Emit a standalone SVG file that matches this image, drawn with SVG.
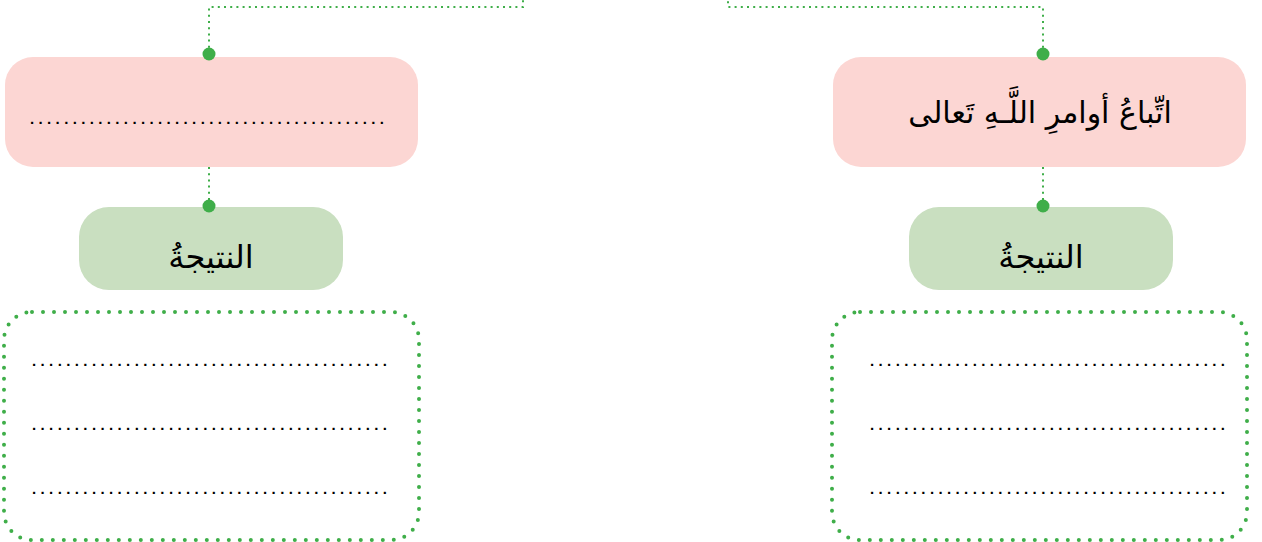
<svg xmlns="http://www.w3.org/2000/svg" width="1262" height="542" viewBox="0 0 1262 542">
<style>
.conn{fill:none;stroke:#3fae49;stroke-width:2;stroke-dasharray:2 4.2}
.dot{fill:#3fae49}
.pink{fill:#fcd6d3}
.green{fill:#c9dfc0}
.frame{fill:none;stroke:#3fae49;stroke-width:4;stroke-linecap:round;stroke-dasharray:0 11}
.lbl{font-family:"DejaVu Sans","Noto Sans",sans-serif;fill:#000;text-anchor:middle}
.fill{font-family:"Liberation Sans",sans-serif;font-size:15px;fill:#000;font-weight:bold}
</style>
<g id="pink-left">
<rect class="pink" x="5" y="57" width="413" height="110" rx="28"/>
<text class="fill" x="30" y="124" textLength="354" lengthAdjust="spacing">..........................................</text>
</g>
<g id="pink-right">
<rect class="pink" x="833" y="57" width="413" height="110" rx="28"/>
<text class="lbl" x="1040" y="123" font-size="30" direction="rtl">اتِّباعُ أوامرِ اللَّـهِ تَعالى</text>
</g>
<g id="green-left">
<rect class="green" x="79" y="207" width="264" height="83" rx="30"/>
<text class="lbl" x="211" y="268" font-size="32" direction="rtl">النتيجةُ</text>
</g>
<g id="green-right">
<rect class="green" x="909" y="207" width="264" height="83" rx="30"/>
<text class="lbl" x="1041" y="268" font-size="32" direction="rtl">النتيجةُ</text>
</g>
<g id="answer-left">
<rect class="frame" x="4" y="312" width="415" height="228" rx="28"/>
<text class="fill" x="32" y="366" textLength="355" lengthAdjust="spacing">..........................................</text>
<text class="fill" x="32" y="430" textLength="355" lengthAdjust="spacing">..........................................</text>
<text class="fill" x="32" y="494" textLength="355" lengthAdjust="spacing">..........................................</text>
</g>
<g id="answer-right">
<rect class="frame" x="832" y="312" width="415" height="228" rx="28"/>
<text class="fill" x="870" y="366" textLength="355" lengthAdjust="spacing">..........................................</text>
<text class="fill" x="870" y="430" textLength="355" lengthAdjust="spacing">..........................................</text>
<text class="fill" x="870" y="494" textLength="355" lengthAdjust="spacing">..........................................</text>
</g>
<g id="connectors">
<path class="conn" d="M209,54 V7 H523 V0"/>
<path class="conn" d="M1043,54 V7 H728 V0"/>
<path class="conn" d="M209,167 V206"/>
<path class="conn" d="M1043,167 V206"/>
<circle class="dot" cx="209" cy="54" r="6.5"/>
<circle class="dot" cx="1043" cy="54" r="6.5"/>
<circle class="dot" cx="209" cy="206" r="6.5"/>
<circle class="dot" cx="1043" cy="206" r="6.5"/>
</g>
</svg>
